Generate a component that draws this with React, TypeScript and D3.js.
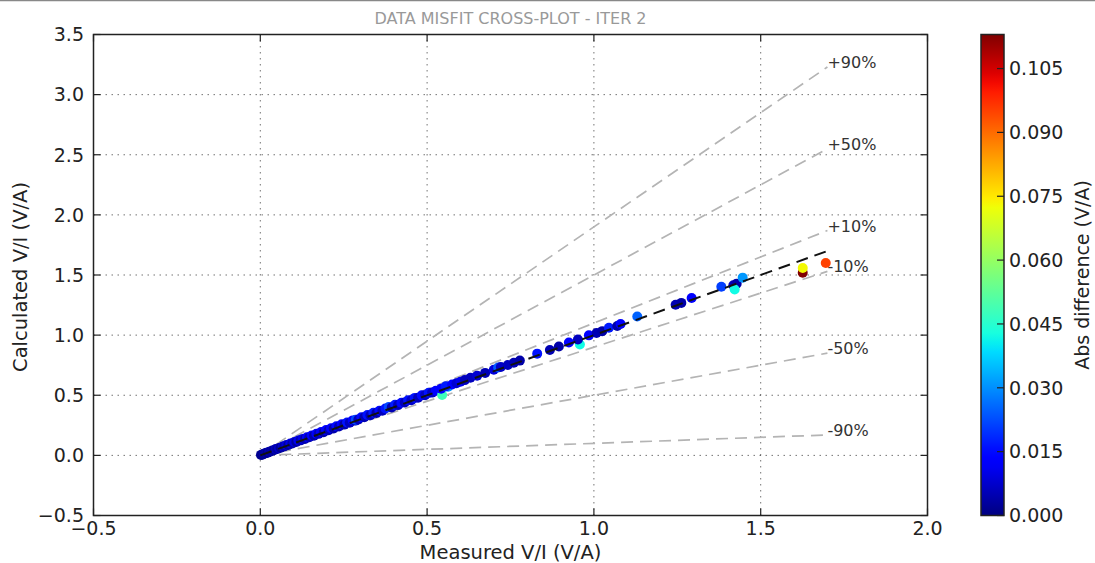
import * as d3 from "d3";

// measured vs calculated V/I (V/A), and the abs difference shown by colour
const measured = [
  0.002, 0.006, 0.010, 0.014, 0.018, 0.022, 0.027, 0.031,
  0.036, 0.041, 0.046, 0.051, 0.056, 0.061, 0.067, 0.072,
  0.078, 0.084, 0.090, 0.096, 0.102, 0.108, 0.114, 0.121,
  0.127, 0.134, 0.140, 0.147, 0.154, 0.161, 0.168, 0.175,
  0.182, 0.190, 0.197, 0.205, 0.212, 0.220, 0.228, 0.236,
  0.244, 0.252, 0.260, 0.268, 0.277, 0.285, 0.286, 0.294,
  0.303, 0.312, 0.321, 0.330, 0.339, 0.348, 0.357, 0.366,
  0.375, 0.385, 0.394, 0.404, 0.413, 0.423, 0.433, 0.443,
  0.453, 0.463, 0.473, 0.484, 0.494, 0.505, 0.515, 0.526,
  0.545, 0.542, 0.563, 0.556, 0.575, 0.588, 0.600, 0.613,
  0.630, 0.650, 0.674, 0.700, 0.713, 0.721, 0.742, 0.760,
  0.778, 0.830, 0.868, 0.895, 0.925, 0.958, 0.952, 0.985,
  1.008, 1.025, 1.045, 1.070, 1.080, 1.130, 1.245, 1.262,
  1.293, 1.382, 1.418, 1.428, 1.422, 1.446, 1.626, 1.626, 1.695,
];
const calculated = [
  0.004, 0.006, 0.013, 0.015, 0.021, 0.022, 0.031, 0.033,
  0.040, 0.042, 0.052, 0.053, 0.062, 0.063, 0.074, 0.075,
  0.086, 0.086, 0.099, 0.099, 0.111, 0.111, 0.124, 0.125,
  0.137, 0.137, 0.151, 0.151, 0.166, 0.164, 0.180, 0.179,
  0.194, 0.193, 0.210, 0.209, 0.225, 0.224, 0.242, 0.240,
  0.258, 0.256, 0.274, 0.272, 0.291, 0.289, 0.296, 0.299,
  0.317, 0.317, 0.336, 0.334, 0.354, 0.352, 0.371, 0.371,
  0.390, 0.402, 0.399, 0.420, 0.418, 0.438, 0.439, 0.458,
  0.459, 0.478, 0.479, 0.499, 0.501, 0.520, 0.522, 0.538,
  0.502, 0.555, 0.570, 0.574, 0.590, 0.600, 0.612, 0.626,
  0.645, 0.663, 0.686, 0.712, 0.731, 0.735, 0.752, 0.771,
  0.788, 0.846, 0.877, 0.905, 0.938, 0.922, 0.963, 0.998,
  1.017, 1.033, 1.062, 1.076, 1.092, 1.155, 1.253, 1.268,
  1.308, 1.402, 1.415, 1.428, 1.380, 1.478, 1.518, 1.558, 1.600,
];
const absDiff = [
  0.002, 0.001, 0.003, 0.002, 0.004, 0.001, 0.005, 0.003,
  0.004, 0.002, 0.006, 0.003, 0.007, 0.002, 0.008, 0.004,
  0.009, 0.003, 0.010, 0.004, 0.009, 0.003, 0.011, 0.005,
  0.010, 0.004, 0.012, 0.005, 0.013, 0.004, 0.012, 0.006,
  0.012, 0.004, 0.014, 0.005, 0.013, 0.004, 0.015, 0.005,
  0.014, 0.004, 0.016, 0.006, 0.014, 0.005, 0.022, 0.006,
  0.015, 0.005, 0.016, 0.006, 0.017, 0.004, 0.015, 0.006,
  0.016, 0.022, 0.005, 0.017, 0.006, 0.015, 0.006, 0.016,
  0.007, 0.016, 0.006, 0.015, 0.007, 0.016, 0.007, 0.013,
  0.048, 0.014, 0.031, 0.017, 0.014, 0.008, 0.011, 0.006,
  0.006, 0.008, 0.005, 0.009, 0.024, 0.007, 0.006, 0.005,
  0.004, 0.016, 0.005, 0.004, 0.013, 0.042, 0.006, 0.014,
  0.005, 0.004, 0.017, 0.004, 0.013, 0.025, 0.005, 0.004,
  0.013, 0.021, 0.006, 0.004, 0.042, 0.031, 0.113, 0.073, 0.095,
];

const xTicks = [-0.5, 0.0, 0.5, 1.0, 1.5, 2.0];
const yTicks = [-0.5, 0.0, 0.5, 1.0, 1.5, 2.0, 2.5, 3.0, 3.5];
const cbarTicks = [0.0, 0.015, 0.03, 0.045, 0.06, 0.075, 0.09, 0.105];
const misfitPct = [90, 50, 10, -10, -50, -90];
const lineEnd = 1.7;

const FONT = "DejaVu Sans";
const W = 1095, H = 563;

// matplotlib "jet"
const jetR = d3.scaleLinear([0, 0.35, 0.66, 0.89, 1], [0, 0, 1, 1, 0.5]).clamp(true);
const jetG = d3.scaleLinear([0, 0.125, 0.375, 0.64, 0.91, 1], [0, 0, 1, 1, 0, 0]).clamp(true);
const jetB = d3.scaleLinear([0, 0.11, 0.34, 0.65, 1], [0.5, 1, 1, 0, 0]).clamp(true);
const jet = (t: number) => d3.rgb(jetR(t) * 255, jetG(t) * 255, jetB(t) * 255).formatHex();

export default function App() {
  const x = d3.scaleLinear([-0.5, 2.0], [93.5, 927.5]);
  const y = d3.scaleLinear([-0.5, 3.5], [515.5, 34.5]);
  const cmax = d3.max(absDiff) as number;
  const cNorm = d3.scaleLinear([0, cmax], [0, 1]);
  const cy = d3.scaleLinear([0, cmax], [515.5, 34.5]);
  const fmt = d3.format(".1f");
  const cfmt = d3.format(".3f");

  const cbX = 981, cbW = 23;
  const stops = d3.range(0, 1.00001, 0.02);
  const line = d3.line<[number, number]>().x((d) => x(d[0])).y((d) => y(d[1]));

  const [x0, x1] = x.range();
  const [y0, y1] = y.range();

  return (
    <svg width={W} height={H} style={{ position: "absolute", left: 0, top: 0, background: "#fff" }} fontFamily={FONT}>
      <defs>
        <linearGradient id="jet" x1="0" y1="1" x2="0" y2="0">
          {stops.map((s) => (
            <stop key={s} offset={s} stopColor={jet(s)} />
          ))}
        </linearGradient>
        <clipPath id="plot">
          <rect x={x0} y={y1} width={x1 - x0} height={y0 - y1} />
        </clipPath>
      </defs>
      <line x1={0} x2={W} y1={0.5} y2={0.5} stroke="#888" strokeWidth={1.5} />

      <text x={(x0 + x1) / 2} y={24} textAnchor="middle" fontSize={16} fill="#999">
        DATA MISFIT CROSS-PLOT - ITER 2
      </text>

      {/* grid */}
      <g stroke="#000" strokeOpacity={0.55} strokeWidth={1} strokeDasharray="1.5,4.5">
        {xTicks.slice(1, -1).map((t) => (
          <line key={"gx" + t} x1={x(t)} x2={x(t)} y1={y0} y2={y1} />
        ))}
        {yTicks.slice(1, -1).map((t) => (
          <line key={"gy" + t} x1={x0} x2={x1} y1={y(t)} y2={y(t)} />
        ))}
      </g>

      <g clipPath="url(#plot)">
        {/* percentage misfit guides */}
        {misfitPct.map((p) => (
          <path key={"p" + p} d={line([[0, 0], [lineEnd, lineEnd * (1 + p / 100)]]) as string}
            fill="none" stroke="#b4b4b4" strokeWidth={1.7} strokeDasharray="12,7" />
        ))}
        {measured.map((m, i) => (
          <circle key={i} cx={x(m)} cy={y(calculated[i])} r={5} fill={jet(cNorm(absDiff[i]))} />
        ))}
        <path d={line([[0, 0], [lineEnd, lineEnd]]) as string} fill="none" stroke="#111"
          strokeWidth={2} strokeDasharray="12,7" />
      </g>

      {misfitPct.map((p) => (
        <text key={"l" + p} x={x(lineEnd)} y={y(lineEnd * (1 + p / 100)) + 1} fontSize={16} fill="#333">
          {(p > 0 ? "+" : "-") + Math.abs(p) + "%"}
        </text>
      ))}

      {/* frame and ticks */}
      <rect x={x0} y={y1} width={x1 - x0} height={y0 - y1} fill="none" stroke="#222" strokeWidth={1.5} />
      <g stroke="#222" strokeWidth={1.2}>
        {xTicks.map((t) => (
          <g key={"tx" + t}>
            <line x1={x(t)} x2={x(t)} y1={y0} y2={y0 - 7} />
            <line x1={x(t)} x2={x(t)} y1={y1} y2={y1 + 7} />
          </g>
        ))}
        {yTicks.map((t) => (
          <g key={"ty" + t}>
            <line x1={x0} x2={x0 + 7} y1={y(t)} y2={y(t)} />
            <line x1={x1} x2={x1 - 7} y1={y(t)} y2={y(t)} />
          </g>
        ))}
      </g>
      <g fontSize={19} fill="#222">
        {xTicks.map((t) => (
          <text key={"lx" + t} x={x(t)} y={535} textAnchor="middle">{fmt(t)}</text>
        ))}
        {yTicks.map((t) => (
          <text key={"ly" + t} x={84} y={y(t)} dy="0.36em" textAnchor="end">{fmt(t)}</text>
        ))}
      </g>
      <text x={(x0 + x1) / 2} y={559} textAnchor="middle" fontSize={19.5} fill="#222">
        Measured V/I (V/A)
      </text>
      <text transform={`translate(27,${(y0 + y1) / 2 + 2}) rotate(-90)`} textAnchor="middle" fontSize={19.5} fill="#222">
        Calculated V/I (V/A)
      </text>

      {/* colorbar */}
      <rect x={cbX} y={cy(cmax)} width={cbW} height={cy(0) - cy(cmax)} fill="url(#jet)" stroke="#222" strokeWidth={1.5} />
      <g stroke="#222" strokeWidth={1.2}>
        {cbarTicks.map((t) => (
          <line key={"ct" + t} x1={cbX + cbW} x2={cbX + cbW - 7} y1={cy(t)} y2={cy(t)} />
        ))}
      </g>
      <g fontSize={19} fill="#222">
        {cbarTicks.map((t) => (
          <text key={"cl" + t} x={cbX + cbW + 5} y={cy(t)} dy="0.36em">{cfmt(t)}</text>
        ))}
      </g>
      <text transform={`translate(1089,${(cy(0) + cy(cmax)) / 2}) rotate(-90)`} textAnchor="middle" fontSize={19} fill="#222">
        Abs difference (V/A)
      </text>
    </svg>
  );
}
